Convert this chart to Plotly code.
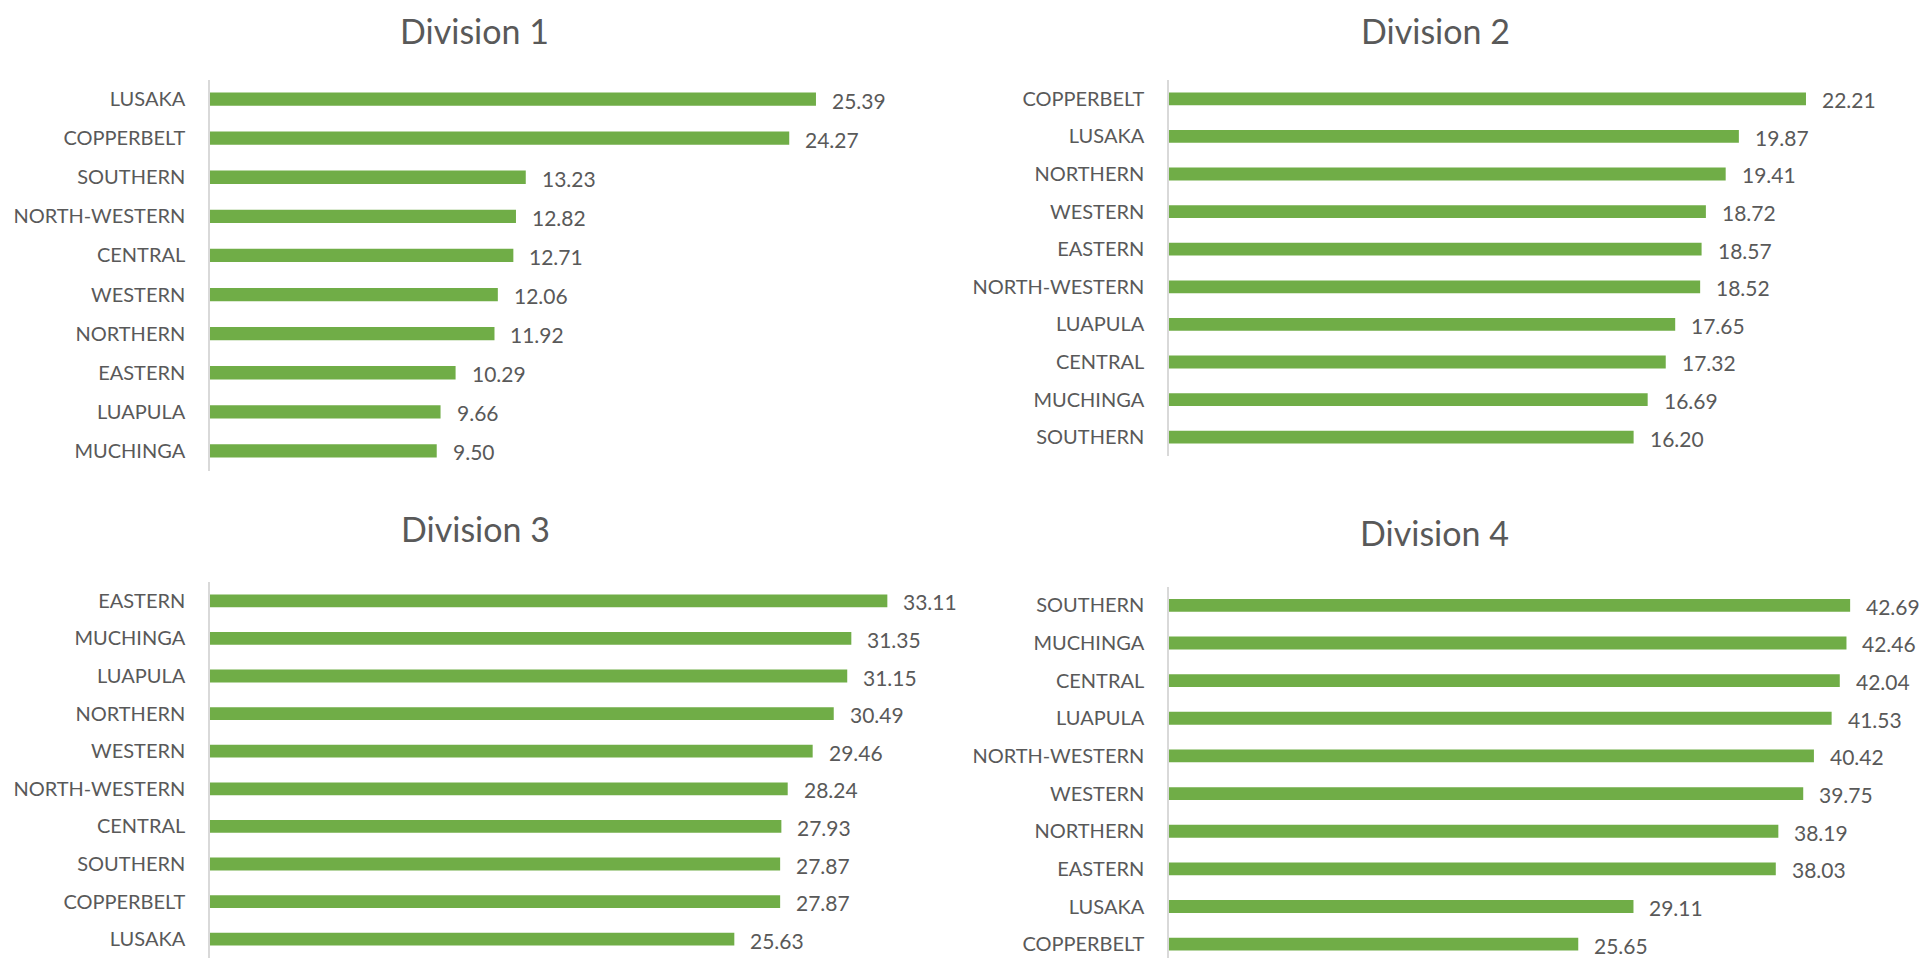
import plotly.graph_objects as go

W, H = 1930, 958
OFF = 8  # page body margin offset of the figure on screen

# ---- data ----
div1_regions = ["LUSAKA", "COPPERBELT", "SOUTHERN", "NORTH-WESTERN", "CENTRAL",
                "WESTERN", "NORTHERN", "EASTERN", "LUAPULA", "MUCHINGA"]
div1_values = [25.39, 24.27, 13.23, 12.82, 12.71, 12.06, 11.92, 10.29, 9.66, 9.50]

div2_regions = ["COPPERBELT", "LUSAKA", "NORTHERN", "WESTERN", "EASTERN",
                "NORTH-WESTERN", "LUAPULA", "CENTRAL", "MUCHINGA", "SOUTHERN"]
div2_values = [22.21, 19.87, 19.41, 18.72, 18.57, 18.52, 17.65, 17.32, 16.69, 16.20]

div3_regions = ["EASTERN", "MUCHINGA", "LUAPULA", "NORTHERN", "WESTERN",
                "NORTH-WESTERN", "CENTRAL", "SOUTHERN", "COPPERBELT", "LUSAKA"]
div3_values = [33.11, 31.35, 31.15, 30.49, 29.46, 28.24, 27.93, 27.87, 27.87, 25.63]

div4_regions = ["SOUTHERN", "MUCHINGA", "CENTRAL", "LUAPULA", "NORTH-WESTERN",
                "WESTERN", "NORTHERN", "EASTERN", "LUSAKA", "COPPERBELT"]
div4_values = [42.69, 42.46, 42.04, 41.53, 40.42, 39.75, 38.19, 38.03, 29.11, 25.65]

titles = ["Division 1", "Division 2", "Division 3", "Division 4"]
x_max = [30, 25, 35, 45]

# ---- style / layout (screen pixels) ----
GREEN = "#70AD47"
TEXT = "#595959"
FONT = "Lato"

panels = [
    dict(x0=210, x1=926, yt=79.5, yb=470.5, tx=474, ty=30),
    dict(x0=1169, x1=1886, yt=80, yb=456, tx=1435, ty=30),
    dict(x0=210, x1=926, yt=582, yb=958, tx=475, ty=528),
    dict(x0=1169, x1=1887, yt=586.5, yb=963, tx=1434, ty=532),
]

data = [(div1_regions, div1_values), (div2_regions, div2_values),
        (div3_regions, div3_values), (div4_regions, div4_values)]


def px_x(x):
    return (x - OFF) / W


def px_y(y):
    return 1 - (y - OFF) / H


fig = go.Figure()
annotations = []
layout_axes = {}

for i, ((regs, vals), p) in enumerate(zip(data, panels)):
    n = "" if i == 0 else str(i + 1)
    xa, ya = "x" + n, "y" + n
    fig.add_trace(go.Bar(
        x=vals, y=regs, orientation="h", xaxis=xa, yaxis=ya,
        marker=dict(color=GREEN, line=dict(width=0)),
        width=0.34, showlegend=False, hoverinfo="x+y",
    ))
    layout_axes["xaxis" + n] = dict(
        domain=[px_x(p["x0"]), px_x(p["x1"])], range=[0, x_max[i]],
        anchor=ya, showgrid=False, zeroline=False, showline=False,
        showticklabels=False, ticks="", fixedrange=True, automargin=False,
    )
    layout_axes["yaxis" + n] = dict(
        domain=[px_y(p["yb"]), px_y(p["yt"])], anchor=xa,
        type="category", categoryorder="array", categoryarray=regs,
        range=[len(regs) - 0.5, -0.5], showgrid=False, zeroline=False,
        showline=True, linecolor="#D9D9D9", linewidth=1.5,
        ticks="", ticklabelstandoff=19, automargin=False,
        tickfont=dict(family=FONT, size=20, color=TEXT), fixedrange=True,
    )
    for r, v in zip(regs, vals):
        annotations.append(dict(
            x=v, y=r, xref=xa, yref=ya, text=f"{v:.2f}", showarrow=False,
            xanchor="left", yanchor="middle", xshift=14, yshift=-1,
            font=dict(family=FONT, size=21, color=TEXT),
        ))
    annotations.append(dict(
        x=px_x(p["tx"]), y=px_y(p["ty"]), xref="paper", yref="paper",
        text=titles[i], showarrow=False, xanchor="center", yanchor="middle",
        font=dict(family=FONT, size=34, color=TEXT),
    ))

fig.update_layout(
    width=W, height=H,
    margin=dict(l=0, r=0, t=0, b=0, autoexpand=False),
    paper_bgcolor="white", plot_bgcolor="white",
    annotations=annotations,
    **layout_axes,
)

fig.write_html("out.html")
